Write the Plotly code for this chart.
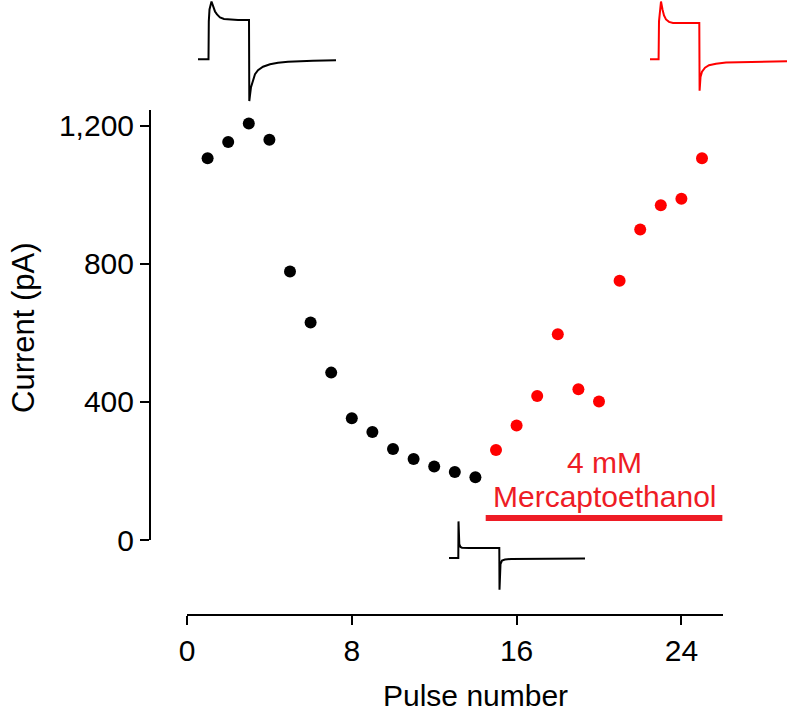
import plotly.graph_objects as go

W, H = 788, 721

# ---- data ----
pulse_control = list(range(1, 15))
current_control = [1106, 1153, 1207, 1160, 778, 630, 485, 353, 313, 264, 235, 213, 197, 182]
pulse_merc = list(range(15, 26))
current_merc = [261, 332, 417, 596, 437, 401, 751, 900, 970, 989, 1106]

x_ticks = [0, 8, 16, 24]
y_ticks = [0, 400, 800, 1200]
y_ticktext = ["0", "400", "800", "1,200"]

merc_period = [14.5, 26.0]
merc_bar_level = [64, 64]

# example current traces (time, current; arbitrary units)
traceA_t = [0, 10.5, 10.8, 11.5, 13.5, 15, 17, 19, 22, 26, 30, 40, 51, 51.3, 52, 53, 54.5, 57, 60, 65, 72, 80, 90, 100, 115, 138]
traceA_i = [0, 0, 38, 50, 58, 53, 48, 45, 42, 40.5, 40, 39.5, 39.5, -42, -36, -28, -22, -15, -11, -7.5, -5, -3.5, -2.5, -2, -1.5, -1]
traceB_t = [0, 8.6, 9, 10, 11, 12.5, 14, 16, 19, 23, 30, 40, 49.3, 49.6, 50.5, 52, 55, 59, 66, 76, 90, 110, 137]
traceB_i = [0, 0, 38, 50, 58, 50, 44, 40, 37.5, 36.5, 36.3, 36.3, 36.3, -31.7, -18, -12.5, -8.5, -6, -4.5, -3.3, -3, -2.5, -2]
traceC_t = [0, 9.3, 9.5, 10.3, 11.5, 13, 20, 35, 50.3, 50.5, 51.5, 53, 56, 62, 80, 136]
traceC_i = [0, 0, 36.6, 14, 11, 10.3, 10, 10, 10, -31.7, -6, -2.5, -1.5, -1, -0.8, -0.5]

FONT = "Liberation Sans, Arial, Helvetica, sans-serif"
RED = "#ee1c25"
RED_PT = "#ff0000"

def px(xp):
    return xp / W

def py(yp):
    return (H - yp) / H

fig = go.Figure()

fig.add_trace(go.Scatter(x=pulse_control, y=current_control, mode="markers",
                         marker=dict(color="black", size=12), cliponaxis=False,
                         xaxis="x", yaxis="y"))
fig.add_trace(go.Scatter(x=pulse_merc, y=current_merc, mode="markers",
                         marker=dict(color=RED_PT, size=12), cliponaxis=False,
                         xaxis="x", yaxis="y"))
fig.add_trace(go.Scatter(x=merc_period, y=merc_bar_level, mode="lines",
                         line=dict(color=RED, width=6), cliponaxis=False,
                         xaxis="x", yaxis="y"))

fig.add_trace(go.Scatter(x=traceA_t, y=traceA_i, mode="lines",
                         line=dict(color="black", width=2), xaxis="x2", yaxis="y2"))
fig.add_trace(go.Scatter(x=traceB_t, y=traceB_i, mode="lines",
                         line=dict(color=RED_PT, width=2), xaxis="x3", yaxis="y3"))
fig.add_trace(go.Scatter(x=traceC_t, y=traceC_i, mode="lines",
                         line=dict(color="black", width=2), xaxis="x4", yaxis="y4"))

axis_common = dict(showgrid=False, zeroline=False, showline=True, linecolor="black",
                   linewidth=2, ticks="outside", ticklen=9, tickwidth=2, tickcolor="black",
                   automargin=False,
                   tickfont=dict(family=FONT, size=30, color="black"))

inv = dict(visible=False, showgrid=False, zeroline=False, automargin=False)

fig.update_layout(
    template="none",
    width=W, height=H,
    margin=dict(l=0, r=0, t=0, b=0, pad=0, autoexpand=False),
    paper_bgcolor="white", plot_bgcolor="rgba(0,0,0,0)",
    showlegend=False,
    hovermode=False,
    xaxis=dict(domain=[px(187), px(722.6)], range=[0, 26], anchor="free", position=py(615),
               tickvals=x_ticks, **axis_common),
    yaxis=dict(domain=[py(540), py(110)], range=[0, 1246], anchor="free", position=px(150),
               tickvals=y_ticks, ticktext=y_ticktext, **axis_common),
    xaxis2=dict(domain=[px(198), px(336)], range=[0, 138], anchor="y2", **inv),
    yaxis2=dict(domain=[py(106), 1.0], range=[-47, 59.5], anchor="x2", **inv),
    xaxis3=dict(domain=[px(650), 1.0], range=[0, 138], anchor="y3", **inv),
    yaxis3=dict(domain=[py(96), 1.0], range=[-37, 59.5], anchor="x3", **inv),
    xaxis4=dict(domain=[px(449), px(587)], range=[0, 138], anchor="y4", **inv),
    yaxis4=dict(domain=[py(594), py(519)], range=[-36, 39], anchor="x4", **inv),
    annotations=[
        dict(text="Pulse number", x=px(475), y=py(695), xref="paper", yref="paper",
             showarrow=False, font=dict(family=FONT, size=30, color="black"),
             xanchor="center", yanchor="middle"),
        dict(text="Current (pA)", x=px(23), y=py(328), xref="paper", yref="paper",
             showarrow=False, textangle=-90, font=dict(family=FONT, size=31, color="black"),
             xanchor="center", yanchor="middle"),
        dict(text="4 mM", x=20.25, y=226, xref="x", yref="y", showarrow=False,
             font=dict(family=FONT, size=30, color=RED), xanchor="center", yanchor="middle"),
        dict(text="Mercaptoethanol", x=20.25, y=125, xref="x", yref="y", showarrow=False,
             font=dict(family=FONT, size=30, color=RED), xanchor="center", yanchor="middle"),
    ],
)

fig.write_html("out.html",
               config={"displayModeBar": False, "staticPlot": True},
               post_script="document.body.style.margin='0';document.body.style.overflow='hidden';")
